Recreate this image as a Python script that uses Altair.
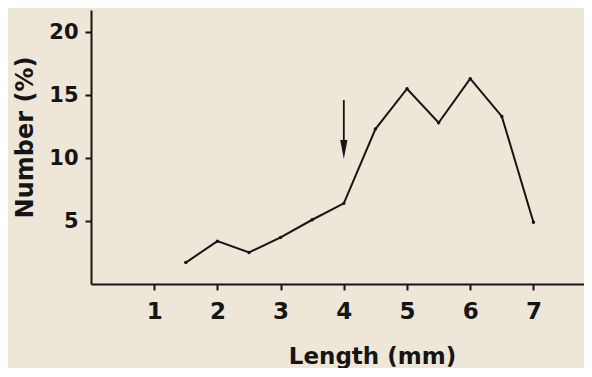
import altair as alt
import pandas as pd

lengths = [1.5, 2, 2.5, 3, 3.5, 4, 4.5, 5, 5.5, 6, 6.5, 7]
numbers = [1.7, 3.4, 2.5, 3.7, 5.1, 6.4, 12.3, 15.5, 12.8, 16.3, 13.3, 4.9]
x_ticks = [1, 2, 3, 4, 5, 6, 7]
y_ticks = [5, 10, 15, 20]
arrow_x = [4]
arrow_top = [14.6]
arrow_shaft_end = [11.4]
arrow_head = [10.67]

df = pd.DataFrame({"Length": lengths, "Number": numbers})
arrow_df = pd.DataFrame({"x": arrow_x, "top": arrow_top, "end": arrow_shaft_end, "head": arrow_head})

FONT = "DejaVu Sans"
INK = "#151515"

xs = alt.Scale(domain=[0, 7.8], nice=False, zero=False)
ys = alt.Scale(domain=[0, 21.75], nice=False, zero=False)

x_axis = alt.Axis(
    values=x_ticks, format="d", title="Length (mm)", grid=False,
    domainColor=INK, domainWidth=2, tickColor=INK, tickWidth=2, tickSize=6,
    labelFont=FONT, labelFontSize=23, labelFontWeight="bold", labelColor=INK, labelPadding=10,
    titleFont=FONT, titleFontSize=23, titleFontWeight="bold", titleColor=INK,
    titleX=281, titleY=79, titleBaseline="alphabetic", titleAnchor="start", titleAlign="center",
)
y_axis = alt.Axis(
    values=y_ticks, format="d", title="Number (%)", grid=False,
    domainColor=INK, domainWidth=2, tickColor=INK, tickWidth=2, tickSize=6,
    labelFont=FONT, labelFontSize=21, labelFontWeight="bold", labelColor=INK, labelPadding=7,
    titleFont=FONT, titleFontSize=24, titleFontWeight="bold", titleColor=INK,
    titleX=-59, titleY=127, titleBaseline="alphabetic", titleAlign="center",
)

line = alt.Chart(df).mark_line(color=INK, strokeWidth=2).encode(
    x=alt.X("Length:Q", scale=xs, axis=x_axis),
    y=alt.Y("Number:Q", scale=ys, axis=y_axis),
)
dots = alt.Chart(df).mark_point(filled=True, color=INK, size=12, opacity=1).encode(
    x=alt.X("Length:Q", scale=xs),
    y=alt.Y("Number:Q", scale=ys),
)
shaft = alt.Chart(arrow_df).mark_rule(color=INK, strokeWidth=1.8).encode(
    x=alt.X("x:Q", scale=xs),
    y=alt.Y("top:Q", scale=ys),
    y2="end:Q",
)
head = alt.Chart(arrow_df).mark_point(
    filled=True, color=INK, opacity=1, size=361,
    shape="M-0.38,-1L0.38,-1L0,1Z",
).encode(
    x=alt.X("x:Q", scale=xs),
    y=alt.Y("head:Q", scale=ys),
)

chart = alt.layer(line, dots, shaft, head).properties(
    width=493, height=274,
    autosize=alt.AutoSizeParams(type="none"),
    padding={"left": 83, "top": 2, "right": 0, "bottom": 84},
    background="#EEE6D6",
).configure_view(stroke=None)

chart.save("out.html", embed_options={"renderer": "svg", "actions": False})
